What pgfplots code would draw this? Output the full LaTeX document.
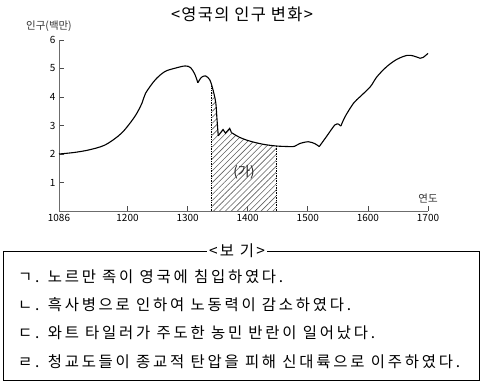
\documentclass[border=0pt]{standalone}
\usepackage{fontspec}
\setmainfont{Noto Sans CJK KR}
\usepackage{pgfplots}
\pgfplotsset{compat=1.18}
\usetikzlibrary{patterns.meta}
\begin{document}
\begin{tikzpicture}
\useasboundingbox (0,0) rectangle (484bp,383bp);
\begin{axis}[
  at={(59bp,172bp)}, anchor=south west,
  scale only axis, width=369bp, height=171bp,
  xmin=1086, xmax=1700, ymin=0, ymax=6,
  axis x line=bottom, axis y line=left,
  axis line style={-, draw=gray!85!black, line width=0.9bp},
  tick align=inside, major tick length=5bp,
  tick style={draw=gray!60!black, line width=0.8bp},
  xtick={1086,1200,1300,1400,1500,1600,1700},
  ytick={1,2,3,4,5,6},
  xticklabel style={font=\fontsize{10}{12}\selectfont, /pgf/number format/1000 sep={}},
  yticklabel style={font=\fontsize{10}{12}\selectfont},
  /pgf/number format/assume math mode=true,
  /pgf/number format/1000 sep={},
  clip=false,
]
% hatched area (가)
\addplot[draw=none, pattern={Lines[angle=45,distance=4.2bp,line width=0.6bp]}, pattern color=gray!75!black]
 coordinates {(1340,0) (1340,4.40) (1341,4.35) (1344,4.10) (1347,3.78) (1349,3.19) (1351,2.64) (1359,2.86) (1363,2.73) (1370,2.90) (1373,2.75) (1387,2.58) (1404,2.45) (1426,2.34) (1448,2.28) (1448,0)} --cycle;
\addplot[densely dotted, black, line width=0.7bp] coordinates {(1340,0) (1340,4.40)};
\addplot[densely dotted, black, line width=0.7bp] coordinates {(1448,0) (1448,2.28)};
% population curve
\addplot[black, line width=1.1bp, smooth, tension=0.5] coordinates {
(1086,2.00) (1110,2.05) (1135,2.14) (1163,2.32) (1190,2.73) (1212,3.31) (1224,3.78) (1230,4.13) (1246,4.60) (1262,4.89) (1279,5.01) (1296,5.09) (1305,5.03) (1312,4.80) (1317,4.50)};
\addplot[black, line width=1.1bp, smooth, tension=0.5] coordinates {
(1317,4.50) (1323,4.69) (1330,4.74) (1337,4.60) (1341,4.35) (1344,4.10) (1347,3.78) (1349,3.19) (1351,2.64)};
\addplot[black, line width=1.1bp] coordinates {
(1351,2.64) (1359,2.86) (1363,2.73) (1370,2.90) (1373,2.75)};
\addplot[black, line width=1.1bp, smooth, tension=0.5] coordinates {
(1373,2.75) (1387,2.58) (1404,2.45) (1426,2.34) (1448,2.28) (1470,2.26) (1478,2.27) (1487,2.37) (1501,2.43) (1512,2.36) (1519,2.26)};
\addplot[black, line width=1.1bp, smooth, tension=0.5] coordinates {
(1519,2.26) (1531,2.61) (1545,3.02) (1551,3.05)};
\addplot[black, line width=1.1bp] coordinates {(1551,3.05) (1555,2.98)};
\addplot[black, line width=1.1bp, smooth, tension=0.5] coordinates {
(1555,2.98) (1562,3.31) (1576,3.78) (1587,4.01) (1604,4.36) (1615,4.71) (1631,5.06) (1648,5.32) (1665,5.46) (1676,5.44) (1687,5.36) (1692,5.39) (1700,5.53)};
\end{axis}
% texts
\node[font=\fontsize{16.5}{19}\selectfont\addfontfeatures{LetterSpace=8}] at (242bp,369bp) {<영국의 인구 변화>};
\node[font=\fontsize{10.5}{12}\selectfont, text=gray!40!black] at (49bp,357bp) {인구(백만)};
\node[font=\fontsize{10.5}{12}\selectfont, text=gray!40!black] at (428bp,185bp) {연도};
\node[font=\fontsize{13.5}{15}\selectfont, text=gray!30!black] at (244bp,211bp) {(가)};
% box
\draw[line width=0.9bp] (3bp,3bp) rectangle (479bp,132bp);
\node[fill=white, inner sep=2bp, font=\fontsize{15.5}{18}\selectfont\addfontfeatures{LetterSpace=15}] at (237bp,132bp) {<보 기>};
\begin{scope}[every node/.style={anchor=west, inner sep=0pt, font=\fontsize{15.5}{18}\selectfont\addfontfeatures{LetterSpace=18}}]
\node at (18bp,106bp) {ㄱ. 노르만 족이 영국에 침입하였다.};
\node at (18bp,78bp) {ㄴ. 흑사병으로 인하여 노동력이 감소하였다.};
\node at (18bp,50bp) {ㄷ. 와트 타일러가 주도한 농민 반란이 일어났다.};
\node at (18bp,21bp) {ㄹ. 청교도들이 종교적 탄압을 피해 신대륙으로 이주하였다.};
\end{scope}
\end{tikzpicture}
\end{document}
